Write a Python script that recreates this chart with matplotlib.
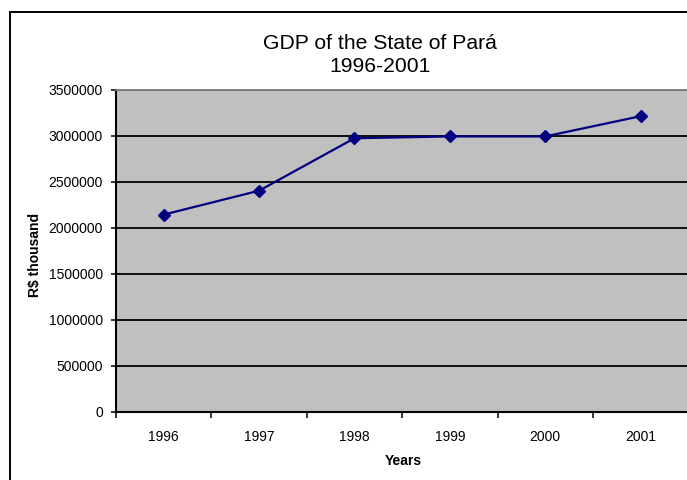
import matplotlib
matplotlib.use("Agg")
import matplotlib.pyplot as plt
from matplotlib.lines import Line2D
import numpy as np

plt.rcParams['font.family'] = ['Liberation Sans', 'DejaVu Sans']

years = ["1996", "1997", "1998", "1999", "2000", "2001"]
gdp = [2140000, 2400000, 2970000, 2990000, 2990000, 3210000]
yticks = [0, 500000, 1000000, 1500000, 2000000, 2500000, 3000000, 3500000]

W, H = 687, 480
fig = plt.figure(figsize=(W / 100, H / 100), dpi=100)
fig.patch.set_facecolor("white")

# plot area (right edge runs just past the picture, as in the reference)
left, right, top, bottom = 116, 688.3, 89.5, 411.5
ax = fig.add_axes([left / W, 1 - bottom / H, (right - left) / W, (bottom - top) / H])
ax.set_facecolor("#C0C0C0")

x = np.arange(len(years))
ax.plot(x, gdp, color="#000080", lw=1.6, marker="D", ms=6, zorder=3, clip_on=False)

ax.set_xlim(-0.5, len(years) - 0.5)
ax.set_ylim(0, 3500000)
ax.set_yticks(yticks)
ax.set_yticklabels([str(v) for v in yticks], fontsize=10)
ax.set_xticks(x)
ax.set_xticklabels(years, fontsize=10)
ax.set_xticks(np.arange(len(years) + 1) - 0.5, minor=True)

ax.tick_params(axis="x", which="major", length=0, pad=13)
ax.tick_params(axis="x", which="minor", length=4.3, width=1.1, direction="out")
ax.tick_params(axis="y", which="major", length=3.8, width=1.1, pad=5.5, direction="out")

ax.yaxis.grid(True, color="black", lw=1.3)
ax.set_axisbelow(True)

ax.spines["right"].set_visible(False)
ax.spines["top"].set_color("#808080")
ax.spines["top"].set_linewidth(1.3)
ax.spines["left"].set_linewidth(1.5)
ax.spines["bottom"].set_linewidth(1.5)

fig.text(380 / W, 1 - 55 / H, "GDP of the State of Pará\n1996-2001", ha="center", va="center",
         fontsize=15.2, linespacing=1.3)
fig.text(403 / W, 1 - 461 / H, "Years", ha="center", va="center", fontsize=10, fontweight="bold")
fig.text(35 / W, 1 - 255 / H, "R$ thousand", ha="center", va="center", rotation=90,
         fontsize=10, fontweight="bold")

# outer chart border (only left and top edges show in the crop)
fig.add_artist(Line2D([10 / W, 10 / W], [0, 1 - 11.7 / H], transform=fig.transFigure, color="black", lw=1.4))
fig.add_artist(Line2D([10 / W, 1], [1 - 11.7 / H, 1 - 11.7 / H], transform=fig.transFigure, color="black", lw=1.4))

fig.savefig("out.png", dpi=100)
